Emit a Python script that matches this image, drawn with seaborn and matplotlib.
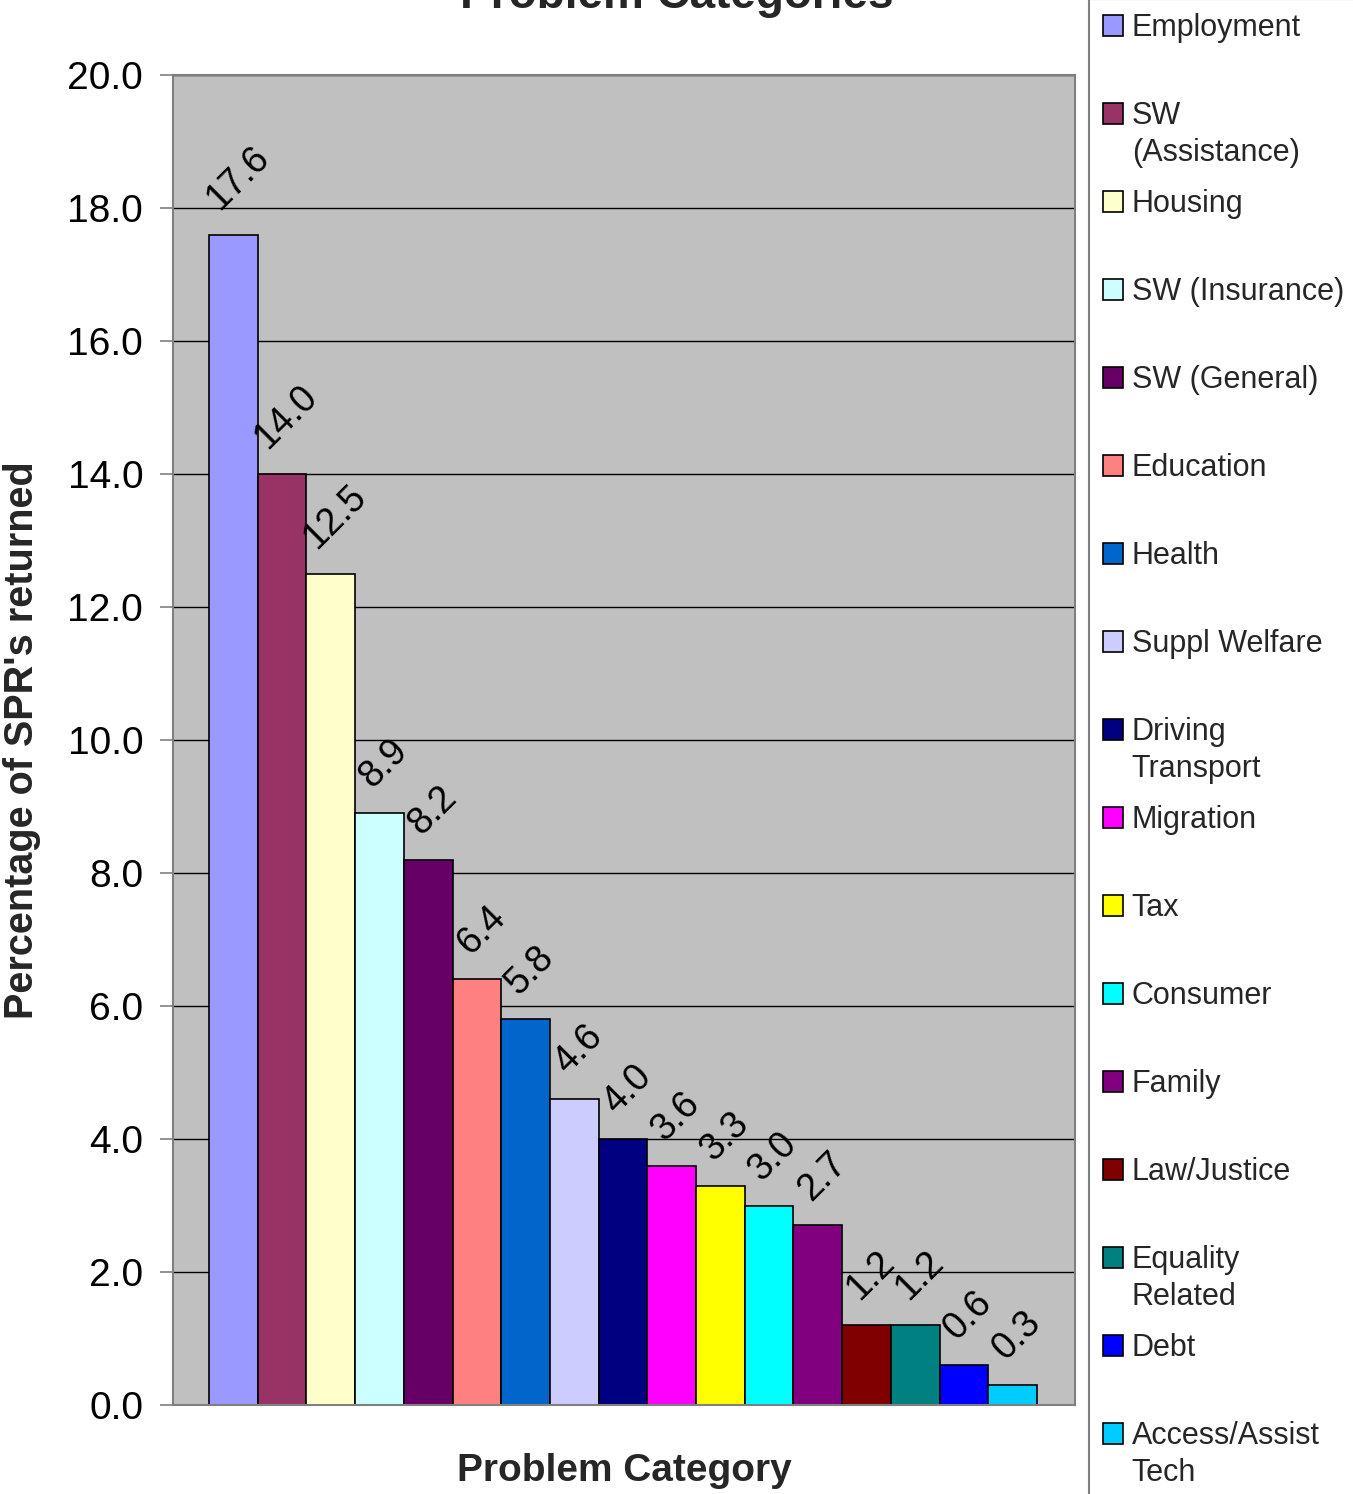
import matplotlib
matplotlib.use("Agg")
import matplotlib.pyplot as plt
import numpy as np
import pandas as pd
import seaborn as sns
from matplotlib.patches import Patch, Rectangle
from matplotlib.legend_handler import HandlerPatch

# ---- data -------------------------------------------------------------
categories = ["Employment", "SW (Assistance)", "Housing", "SW (Insurance)",
              "SW (General)", "Education", "Health", "Suppl Welfare",
              "Driving Transport", "Migration", "Tax", "Consumer", "Family",
              "Law/Justice", "Equality Related", "Debt", "Access/Assist Tech"]
legend_labels = ["Employment", "SW\n(Assistance)", "Housing", "SW (Insurance)",
                 "SW (General)", "Education", "Health", "Suppl Welfare",
                 "Driving\nTransport", "Migration", "Tax", "Consumer", "Family",
                 "Law/Justice", "Equality\nRelated", "Debt", "Access/Assist\nTech"]
values = [17.6, 14.0, 12.5, 8.9, 8.2, 6.4, 5.8, 4.6, 4.0, 3.6, 3.3, 3.0, 2.7,
          1.2, 1.2, 0.6, 0.3]
colors = ["#9999FF", "#993366", "#FFFFCC", "#CCFFFF", "#660066", "#FF8080",
          "#0066CC", "#CCCCFF", "#000080", "#FF00FF", "#FFFF00", "#00FFFF",
          "#800080", "#800000", "#008080", "#0000FF", "#00CCFF"]
y_ticks = [0, 2, 4, 6, 8, 10, 12, 14, 16, 18, 20]

# ---- style ------------------------------------------------------------
sns.set_theme(style="white")
plt.rcParams["font.family"] = ["Liberation Sans", "DejaVu Sans"]

W, H = 1353, 1494
fig = plt.figure(figsize=(W / 100, H / 100), dpi=100)
ax = fig.add_axes([173 / W, 1 - 1405 / H, 902 / W, 1330 / H])

df = pd.DataFrame({"category": categories, "value": values})
sns.barplot(data=df, x="category", y="value", hue="category",
            order=categories, hue_order=categories, palette=colors,
            saturation=1, width=1.0, edgecolor="black", linewidth=1.2,
            legend=False, ax=ax)

ax.set_facecolor("#C0C0C0")
ax.set_axisbelow(True)
ax.yaxis.grid(True, color="black", linewidth=1.0)
ax.xaxis.grid(False)
ax.set_xlim(-1.24, 17.28)
ax.set_ylim(0, 20)
ax.set_yticks(y_ticks)
ax.set_yticklabels([f"{t:.1f}" for t in y_ticks])
ax.tick_params(axis="y", left=True, length=9.5, width=1.2, color="#808080",
               pad=12, labelsize=28, labelcolor="black")
ax.tick_params(axis="x", bottom=False, labelbottom=False)
for s in ax.spines.values():
    s.set_visible(True)
    s.set_color("#808080")
    s.set_linewidth(1.5)

# value labels above each bar, rotated 45 degrees
for i, v in enumerate(values):
    ax.annotate(f"{v:.1f}", (i, v), xytext=(3, 13), textcoords="offset points",
                rotation=45, ha="center", va="bottom",
                fontsize=27, color="black")

ax.set_ylabel("Percentage of SPR's returned", fontsize=28.5, fontweight="bold",
              va="center")
ax.yaxis.set_label_coords((22 - 173) / 902, 0.5)
ax.set_xlabel("Problem Category", fontsize=28, fontweight="bold", va="center")
ax.xaxis.set_label_coords(0.5, (1405 - 1471) / 1330)

fig.text(0.5, 1 - 8 / H, "Problem Categories", ha="center", va="baseline",
         fontsize=33, fontweight="bold")

# ---- legend -----------------------------------------------------------
fs = 22
renderer = fig.canvas.get_renderer()
t1 = fig.text(0, 0, "Ag", fontsize=fs, linespacing=1.0)
t2 = fig.text(0, 0, "Ag\nAg", fontsize=fs, linespacing=1.0)
step1 = t2.get_window_extent(renderer).height - t1.get_window_extent(renderer).height
t1.remove(); t2.remove()
line_step_px = 40.0
ls = line_step_px / step1
t2 = fig.text(0, 0, "Ag\nAg", fontsize=fs, linespacing=ls)
entry_h = t2.get_window_extent(renderer).height
t2.remove()
fs_px = fs * fig.dpi / 72
label_spacing = (88.0 - entry_h) / fs_px
swatch_raise_pt = 22.0 * 72 / fig.dpi


class FirstLineHandler(HandlerPatch):
    """Square swatch aligned with the first line of a two-line label."""

    def create_artists(self, legend, orig_handle, xdescent, ydescent,
                       width, height, fontsize, trans):
        p = Rectangle((-xdescent, -ydescent + swatch_raise_pt), width, height)
        self.update_prop(p, orig_handle, legend)
        p.set_transform(trans)
        return [p]


handles = [Patch(facecolor=c, edgecolor="black", linewidth=1.2) for c in colors]
labels2 = [l if "\n" in l else l + "\n " for l in legend_labels]
leg = fig.legend(handles, labels2, loc="upper left",
                 bbox_to_anchor=(1089 / W, 1 + 1 / H),
                 bbox_transform=fig.transFigure, fontsize=fs,
                 handlelength=0.65, handleheight=0.65, handletextpad=0.3,
                 labelspacing=label_spacing, borderpad=0.45, borderaxespad=0,
                 frameon=True, fancybox=False, framealpha=1,
                 edgecolor="#808080", facecolor="white",
                 handler_map={Patch: FirstLineHandler()})
leg.get_frame().set_linewidth(1.5)
for t in leg.get_texts():
    t.set_linespacing(ls)

fig.savefig("out.png", dpi=100)
